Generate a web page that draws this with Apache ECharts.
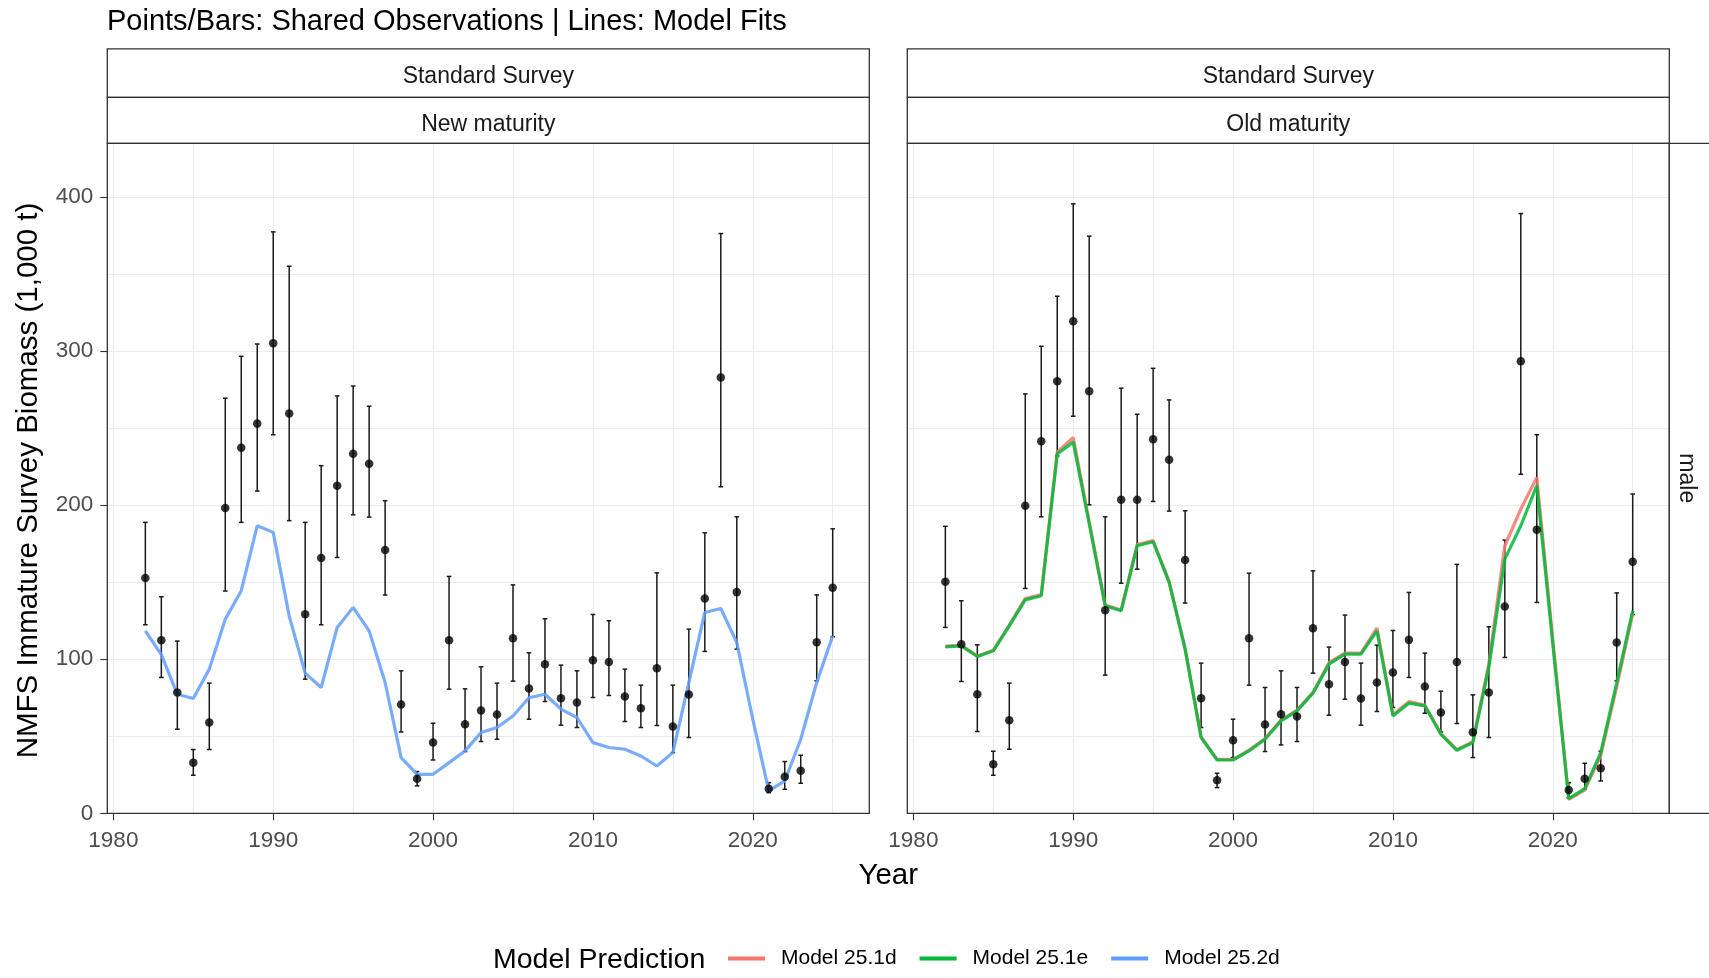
<!DOCTYPE html>
<html><head><meta charset="utf-8">
<script src="https://cdn.jsdelivr.net/npm/echarts@6/dist/echarts.min.js"></script>
<style>html,body{margin:0;padding:0;background:#fff}#c{width:1709px;height:978px}</style>
</head><body><div id="c"></div>
<script>
// ---------- data ----------
const obsYears = [1982,1983,1984,1985,1986,1987,1988,1989,1990,1991,1992,1993,1994,1995,1996,1997,1998,1999,2000,2001,2002,2003,2004,2005,2006,2007,2008,2009,2010,2011,2012,2013,2014,2015,2016,2017,2018,2019,2021,2022,2023,2024,2025];
// New maturity observations (1,000 t) with lower / upper bars
const newMatObs = [152.7,112.4,78.4,32.9,58.9,198.2,237.4,253.0,305.2,259.5,129.3,165.7,212.7,233.5,227.0,170.9,70.6,22.5,45.9,112.4,57.8,66.7,64.1,113.7,81.0,96.7,74.7,71.9,99.4,98.3,75.8,68.2,94.2,56.3,77.1,139.5,282.9,143.6,16.0,23.8,27.7,111.1,146.4];
const newMatLo  = [122.4,88.2,54.6,24.7,41.4,144.3,188.9,209.2,245.8,190.0,87.1,122.4,166.1,193.8,192.3,141.7,52.8,17.8,34.6,80.6,40.1,46.6,48.1,85.8,61.1,72.6,57.2,55.7,75.2,76.5,59.6,55.7,57.0,39.4,49.2,105.1,212.0,106.6,13.4,15.6,19.5,86.0,114.6];
const newMatHi  = [188.9,140.6,111.8,41.4,84.5,269.5,296.7,304.7,377.5,355.2,188.9,225.7,271.0,277.4,264.3,202.9,92.5,27.1,58.5,153.8,80.8,95.1,84.5,148.3,104.2,126.3,96.2,92.5,129.1,125.0,93.6,83.2,156.1,83.2,119.6,182.1,376.4,192.5,19.9,33.6,37.7,141.8,184.7];
// Old maturity observations
const oldMatObs = [150.3,109.8,77.3,31.8,60.4,199.7,241.5,280.5,319.5,274.0,131.9,203.6,203.6,242.8,229.6,164.4,74.7,21.4,47.4,113.7,57.6,64.3,62.8,120.2,83.8,98.3,74.5,84.9,91.4,112.6,82.3,65.4,98.3,52.6,78.4,134.3,293.5,184.1,15.1,22.5,29.2,110.9,163.3];
const oldMatLo  = [120.7,85.6,53.1,24.7,41.6,146.0,192.5,232.0,257.8,200.3,89.7,149.4,158.5,202.5,196.2,136.5,55.7,16.7,36.2,83.2,40.1,44.4,46.6,91.0,63.7,74.1,57.2,66.1,68.7,88.2,65.0,52.8,58.3,36.2,49.2,101.2,220.1,136.9,10.2,15.6,21.0,86.0,129.0];
const oldMatHi  = [186.3,138.0,109.4,40.3,84.5,272.3,303.2,335.7,395.7,374.7,192.5,276.0,259.1,288.9,268.4,196.4,97.5,26.0,61.1,155.9,81.7,92.5,81.7,157.4,107.9,128.7,97.5,109.2,118.7,143.4,104.0,79.3,161.6,76.9,121.1,177.4,389.4,245.8,19.9,32.5,40.3,143.1,207.3];
// Model fits
const fitYears = [1982,1983,1984,1985,1986,1987,1988,1989,1990,1991,1992,1993,1994,1995,1996,1997,1998,1999,2000,2001,2002,2003,2004,2005,2006,2007,2008,2009,2010,2011,2012,2013,2014,2015,2016,2017,2018,2019,2020,2021,2022,2023,2024,2025];
const fit251d = [108.6,109.0,102.0,105.8,122.2,139.5,142.0,234.5,244.0,189.5,135.2,132.0,174.5,177.0,150.4,107.0,49.6,35.0,35.0,41.0,48.6,60.5,67.0,78.6,97.8,104.0,104.0,120.3,64.0,72.5,70.2,51.8,41.3,46.5,97.0,173.7,197.5,218.0,113.0,9.0,15.0,37.5,82.0,129.5];
const fit251e = [108.1,108.7,101.8,105.5,121.7,138.6,141.2,233.3,241.0,188.0,134.7,131.5,173.7,176.3,149.9,106.6,49.2,34.6,34.6,40.5,48.1,60.0,66.5,78.0,96.8,103.3,103.3,118.5,63.2,71.5,69.7,51.3,40.9,45.9,94.7,165.0,186.7,212.7,110.0,9.5,16.0,39.4,84.9,131.5];
const fit252d = [118.5,103.0,77.3,74.5,93.6,126.0,144.5,186.7,182.4,128.0,91.0,81.7,120.6,133.7,118.5,84.9,36.2,25.3,25.3,32.9,40.5,52.4,55.7,63.2,75.0,77.3,67.6,62.2,45.9,42.7,41.6,37.2,30.7,39.4,84.9,130.4,133.0,110.9,61.1,14.5,21.0,48.1,84.9,115.2];
// axis ticks / gridlines
const xTickValues = [1980,1990,2000,2010,2020];
const xGridValues = [1980,1985,1990,1995,2000,2005,2010,2015,2020,2025];
const yTickValues = [0,100,200,300,400];
const yGridValues = [50,100,150,200,250,300,350,400];
const seriesNames = ['Model 25.1d','Model 25.1e','Model 25.2d'];
const seriesColors = ['#F8766D','#00BA38','#619CFF'];

// ---------- layout ----------
const FONT = '"Liberation Sans", Arial, Helvetica, sans-serif';
const PT = 143.3, PB = 813.3, PW = 762, PH = PB - PT;
const PL = [107.3, 907.3];
const XMIN = 1979.62, XMAX = 2027.29, YMIN = 0, YMAX = 435;

const chart = echarts.init(document.getElementById('c'), null, {renderer: 'canvas'});

const grids = PL.map(l => ({left: l, top: PT, width: PW, height: PH, show: false, containLabel: false}));

const xAxes = [], yAxes = [];
[0, 1].forEach(g => {
  xAxes.push({
    type: 'value', gridIndex: g, min: XMIN, max: XMAX, position: 'bottom',
    axisLine: {show: false},
    axisTick: {show: true, length: 7, lineStyle: {color: '#333333', width: 1.1}, customValues: xTickValues},
    axisLabel: {show: true, customValues: xTickValues, fontSize: 22.5, color: '#4D4D4D', fontFamily: FONT, margin: 16,
      formatter: v => String(v)},
    splitLine: {show: false}
  });
  xAxes.push({
    type: 'value', gridIndex: g, min: XMIN, max: XMAX, position: 'top',
    axisLine: {show: false}, axisLabel: {show: false},
    axisTick: {show: false, customValues: xGridValues},
    splitLine: {show: true, lineStyle: {color: '#EBEBEB', width: 1.1}}
  });
  yAxes.push({
    type: 'value', gridIndex: g, min: YMIN, max: YMAX, position: 'left',
    axisLine: {show: false},
    axisTick: {show: g === 0, length: 7, lineStyle: {color: '#333333', width: 1.1}, customValues: yTickValues},
    axisLabel: {show: g === 0, customValues: yTickValues, fontSize: 22.5, color: '#4D4D4D', fontFamily: FONT, margin: 14},
    splitLine: {show: false}
  });
  yAxes.push({
    type: 'value', gridIndex: g, min: YMIN, max: YMAX, position: 'right',
    axisLine: {show: false}, axisLabel: {show: false},
    axisTick: {show: false, customValues: yGridValues},
    splitLine: {show: true, lineStyle: {color: '#EBEBEB', width: 1.1}}
  });
});

function errorBarSeries(g, lo, hi) {
  return {
    type: 'custom', xAxisIndex: g * 2, yAxisIndex: g * 2, z: 3, silent: true,
    data: obsYears.map((y, i) => [y, lo[i], hi[i]]),
    encode: {x: 0, y: [1, 2]},
    renderItem: (params, api) => {
      const x = api.value(0);
      const pl = api.coord([x, api.value(1)]);
      const ph = api.coord([x, api.value(2)]);
      const w = 2.3;
      const st = {stroke: '#1a1a1a', lineWidth: 1.5};
      return {type: 'group', children: [
        {type: 'line', shape: {x1: pl[0], y1: pl[1], x2: ph[0], y2: ph[1]}, style: st},
        {type: 'line', shape: {x1: ph[0] - w, y1: ph[1], x2: ph[0] + w, y2: ph[1]}, style: st},
        {type: 'line', shape: {x1: pl[0] - w, y1: pl[1], x2: pl[0] + w, y2: pl[1]}, style: st}
      ]};
    }
  };
}
function pointSeries(g, vals) {
  return {
    type: 'scatter', xAxisIndex: g * 2, yAxisIndex: g * 2, z: 5, silent: true,
    symbol: 'circle', symbolSize: 8.5, itemStyle: {color: '#000'},
    data: obsYears.map((y, i) => [y, vals[i]])
  };
}
function fitSeries(g, idx, vals, opacity, z) {
  return {
    type: 'line', name: seriesNames[idx], xAxisIndex: g * 2, yAxisIndex: g * 2, z: z, silent: true,
    showSymbol: false, symbol: 'none',
    lineStyle: {color: seriesColors[idx], width: 3.2, opacity: opacity},
    itemStyle: {color: seriesColors[idx]},
    data: fitYears.map((y, i) => [y, vals[i]])
  };
}

const series = [
  errorBarSeries(0, newMatLo, newMatHi),
  fitSeries(0, 2, fit252d, 0.85, 4),
  pointSeries(0, newMatObs),
  errorBarSeries(1, oldMatLo, oldMatHi),
  fitSeries(1, 0, fit251d, 0.85, 4),
  fitSeries(1, 1, fit251e, 0.85, 4),
  pointSeries(1, oldMatObs)
];

// facet strips, panel borders, titles
const graphic = [];
const stripRows = [[48.8, 97.3], [97.3, PT]];
const stripLabels = [['Standard Survey', 'New maturity'], ['Standard Survey', 'Old maturity']];
PL.forEach((l, g) => {
  stripRows.forEach((r, k) => {
    graphic.push({type: 'rect', z: 100, shape: {x: l, y: r[0], width: PW, height: r[1] - r[0]},
      style: {fill: '#fff', stroke: '#333333', lineWidth: 1.3}});
    graphic.push({type: 'text', z: 101, x: l + PW / 2, y: (r[0] + r[1]) / 2 + 4,
      style: {text: stripLabels[g][k], fill: '#1A1A1A', font: '23px ' + FONT, align: 'center', verticalAlign: 'middle'}});
  });
  graphic.push({type: 'rect', z: 100, shape: {x: l, y: PT, width: PW, height: PH},
    style: {fill: 'none', stroke: '#333333', lineWidth: 1.3}});
});
// row strip "male" on the right
graphic.push({type: 'rect', z: 100, shape: {x: PL[1] + PW, y: PT, width: 60, height: PH},
  style: {fill: '#fff', stroke: '#333333', lineWidth: 1.3}});
graphic.push({type: 'text', z: 101, x: 1686, y: (PT + PB) / 2, rotation: -Math.PI / 2,
  style: {text: 'male', fill: '#1A1A1A', font: '23px ' + FONT, align: 'center', verticalAlign: 'middle'}});
// plot title
graphic.push({type: 'text', z: 101, x: 107, y: 22,
  style: {text: 'Points/Bars: Shared Observations | Lines: Model Fits', fill: '#000', font: '29px ' + FONT, align: 'left', verticalAlign: 'middle'}});
// axis titles
graphic.push({type: 'text', z: 101, x: 888.3, y: 876,
  style: {text: 'Year', fill: '#000', font: '29.5px ' + FONT, align: 'center', verticalAlign: 'middle'}});
graphic.push({type: 'text', z: 101, x: 29, y: 480.5, rotation: Math.PI / 2,
  style: {text: 'NMFS Immature Survey Biomass (1,000 t)', fill: '#000', font: '29.5px ' + FONT, align: 'center', verticalAlign: 'middle'}});
// legend title
graphic.push({type: 'text', z: 101, x: 493, y: 960,
  style: {text: 'Model Prediction', fill: '#000', font: '28.5px ' + FONT, align: 'left', verticalAlign: 'middle'}});

chart.setOption({
  animation: false,
  backgroundColor: '#fff',
  grid: grids,
  xAxis: xAxes,
  yAxis: yAxes,
  legend: {
    data: seriesNames, left: 723, top: 943, padding: 5,
    icon: 'rect', itemWidth: 37, itemHeight: 4, itemGap: 23, selectedMode: false,
    textStyle: {fontSize: 21, color: '#000', fontFamily: FONT, padding: [0, 0, 0, 11]}
  },
  graphic: graphic,
  series: series
});
</script></body></html>
